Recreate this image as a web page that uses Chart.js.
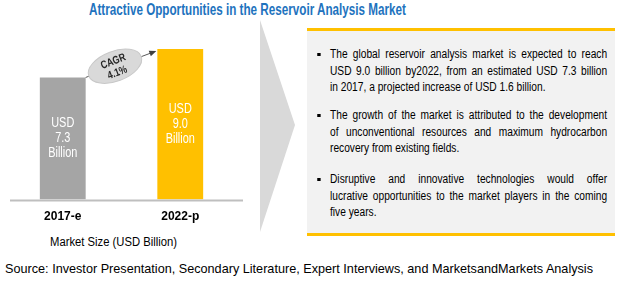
<!DOCTYPE html>
<html>
<head>
<meta charset="utf-8">
<script src="https://cdn.jsdelivr.net/npm/chart.js@4.4.0/dist/chart.umd.min.js"></script>
<style>
  body { margin: 0; width: 628px; height: 283px; background: #fff; position: relative; overflow: hidden; font-family: "Liberation Sans", Arial, sans-serif; }
  .fit { position: absolute; white-space: nowrap; transform-origin: 0 50%; }
  #title { left: 89px; top: 0; color: #1E73BE; font: bold 16.5px "Liberation Sans", Arial, sans-serif; line-height: 19px; }
  #chartWrap { position: absolute; left: 0; top: 0; width: 250px; height: 234px; }
  #axisTitle { left: 50px; top: 235px; font: 12.5px "Liberation Sans", Arial, sans-serif; color: #000; }
  #chevron { position: absolute; left: 260px; top: 20px; width: 35px; height: 212px; background: #D9D9D9; clip-path: polygon(0 0, 100% 49.5%, 0 100%); }
  #box { position: absolute; left: 307px; top: 28px; width: 308px; height: 202px; background: #F2F2F2; border-top: 3px solid #FFC000; border-bottom: 3px solid #FFC000; }
  .para { position: absolute; left: 23px; width: 326px; transform: scaleX(0.85); transform-origin: 0 0; font: 12px "Liberation Sans", Arial, sans-serif; color: #000; }
  .para .ln { line-height: 16.5px; height: 16.5px; text-align: justify; text-align-last: justify; white-space: nowrap; }
  .para .ln.last { text-align-last: left; }
  .para::before { content: ""; position: absolute; left: -15px; top: 7px; width: 3.5px; height: 3px; background: #000; }
  #source { left: 5px; top: 262px; font: 12.7px "Liberation Sans", Arial, sans-serif; color: #000; }
</style>
</head>
<body>
<div id="title" class="fit" data-w="317">Attractive Opportunities in the Reservoir Analysis Market</div>
<div id="chartWrap"><canvas id="marketChart"></canvas></div>
<div id="axisTitle" class="fit" data-w="127">Market Size (USD Billion)</div>
<div id="chevron"></div>
<div id="box">
  <div class="para" style="top:15px">
    <div class="ln">The global reservoir analysis market is expected to reach</div>
    <div class="ln">USD 9.0 billion by2022, from an estimated USD 7.3 billion</div>
    <div class="ln last">in 2017, a projected increase of USD 1.6 billion.</div>
  </div>
  <div class="para" style="top:76px">
    <div class="ln">The growth of the market is attributed to the development</div>
    <div class="ln">of unconventional resources and maximum hydrocarbon</div>
    <div class="ln last">recovery from existing fields.</div>
  </div>
  <div class="para" style="top:140px">
    <div class="ln">Disruptive and innovative technologies would offer</div>
    <div class="ln">lucrative opportunities to the market players in the coming</div>
    <div class="ln last">five years.</div>
  </div>
</div>
<div id="source" class="fit" data-w="588">Source: Investor Presentation, Secondary Literature, Expert Interviews, and MarketsandMarkets Analysis</div>

<script>
// chart values
const categories = ['2017-e', '2022-p'];
const marketSize = [7.3, 9.0];
const cagrText = ['CAGR', '4.1%'];

const barColors = ['#A5A5A5', '#FFC000'];

// squeeze the html text to the widths seen in the picture
document.querySelectorAll('.fit').forEach(el => {
    const w = el.getBoundingClientRect().width;
    el.style.transform = `scaleX(${el.dataset.w / w})`;
});

function narrowText(ctx, text, x, y, sx) {
    ctx.save();
    ctx.translate(x, y);
    ctx.scale(sx, 1);
    ctx.fillText(text, 0, 0);
    ctx.restore();
}

// baseline + white labels inside bars + CAGR bubble with arrow
const extrasPlugin = {
    id: 'extras',
    afterDatasetsDraw(chart) {
        const ctx = chart.ctx;
        const area = chart.chartArea;
        const bars = chart.getDatasetMeta(0).data;

        // axis line
        ctx.save();
        ctx.strokeStyle = '#BFBFBF';
        ctx.lineWidth = 2;
        ctx.beginPath();
        ctx.moveTo(area.left + 6, area.bottom + 1);
        ctx.lineTo(area.right + 4, area.bottom + 1);
        ctx.stroke();

        // labels inside bars
        ctx.fillStyle = '#fff';
        ctx.font = '14px "Liberation Sans", Arial, sans-serif';
        ctx.textAlign = 'center';
        ctx.textBaseline = 'middle';
        bars.forEach((bar, i) => {
            const midY = (bar.y + bar.base) / 2;
            const lines = ['USD', marketSize[i].toFixed(1), 'Billion'];
            lines.forEach((t, k) => narrowText(ctx, t, bar.x, midY + (k - 1) * 15, 0.78));
        });

        // arrow from first bar top to second bar top
        const b0 = bars[0], b1 = bars[1];
        const x0 = b0.x + b0.width / 2, y0 = b0.y;
        const x1 = b1.x - b1.width / 2 - 1, y1 = b1.y + 2;
        const ang = Math.atan2(y1 - y0, x1 - x0);
        ctx.strokeStyle = '#595959';
        ctx.fillStyle = '#404040';
        ctx.lineWidth = 1;
        ctx.beginPath();
        ctx.moveTo(x0, y0);
        ctx.lineTo(x1 - 5 * Math.cos(ang), y1 - 5 * Math.sin(ang));
        ctx.stroke();
        ctx.beginPath();
        ctx.moveTo(x1, y1);
        ctx.lineTo(x1 - 7 * Math.cos(ang) + 3 * Math.sin(ang), y1 - 7 * Math.sin(ang) - 3 * Math.cos(ang));
        ctx.lineTo(x1 - 7 * Math.cos(ang) - 3 * Math.sin(ang), y1 - 7 * Math.sin(ang) + 3 * Math.cos(ang));
        ctx.closePath();
        ctx.fill();

        // CAGR ellipse
        const cx = (x0 + x1) / 2 - 6, cy = (y0 + y1) / 2 + 2;
        ctx.translate(cx, cy);
        ctx.rotate(ang);
        ctx.beginPath();
        ctx.ellipse(0, 0, 28, 15, 0, 0, Math.PI * 2);
        ctx.fillStyle = '#D9D9D9';
        ctx.fill();
        ctx.strokeStyle = '#C8C8C8';
        ctx.stroke();
        ctx.fillStyle = '#262626';
        ctx.font = 'bold 11px "Liberation Sans", Arial, sans-serif';
        narrowText(ctx, cagrText[0], 0, -5, 0.8);
        narrowText(ctx, cagrText[1], 0, 7, 0.8);
        ctx.restore();
    }
};

const myChart = new Chart(document.getElementById('marketChart'), {
    type: 'bar',
    data: {
        labels: categories,
        datasets: [{
            data: marketSize,
            backgroundColor: barColors,
            borderWidth: 0,
            categoryPercentage: 1,
            barPercentage: 0.39
        }]
    },
    plugins: [extrasPlugin],
    options: {
        responsive: true,
        maintainAspectRatio: false,
        animation: false,
        layout: {
            padding: { top: 49, left: 4, right: 11, bottom: 0 }
        },
        scales: {
            x: {
                grid: { display: false, drawTicks: false },
                border: { display: false },
                ticks: {
                    color: '#000',
                    padding: 10,
                    font: { family: '"Liberation Sans", Arial, sans-serif', size: 12, weight: 'bold' }
                }
            },
            y: {
                display: false,
                min: 0,
                max: 9.0
            }
        },
        plugins: {
            legend: { display: false },
            tooltip: { enabled: false }
        }
    }
});
</script>
</body>
</html>
